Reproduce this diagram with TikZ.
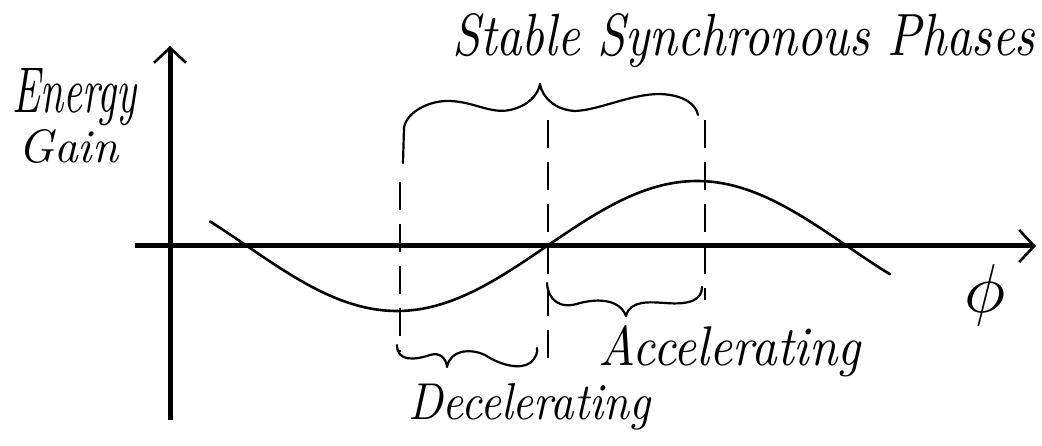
\documentclass[tikz,border=0pt]{standalone}
\usetikzlibrary{arrows.meta}
\begin{document}
\begin{tikzpicture}[x=1pt,y=-1pt,
  axis/.style={line width=5pt,-{Straight Barb[length=15pt,width=32pt,line width=2.6pt]}},
  wave/.style={line width=2.6pt,line cap=round},
  bracestroke/.style={line width=2.2pt,line cap=round,line join=round},
  guide/.style={line width=1.4pt,dash pattern=on 28pt off 14pt},
  hand/.style={inner sep=0pt,font=\itshape}]
\useasboundingbox (0,0) rectangle (1042,446);
% axes
\coordinate (yb) at (170,420);
\coordinate (yt) at (170,46);
\coordinate (xl) at (135,246);
\coordinate (xr) at (1036,246);
\draw[axis] (yb) -- (yt);
\draw[axis] (xl) -- (xr);
% sine curve
\draw[wave] plot[domain=210:890,samples=120,smooth] (\x,{246-65*sin(0.6*(\x-547))});
% dashed guides
\coordinate (g1t) at (400,182); \coordinate (g1b) at (400,352);
\coordinate (g2t) at (548,120); \coordinate (g2b) at (548,362);
\coordinate (g3t) at (705,120); \coordinate (g3b) at (705,300);
\draw[guide] (g1t) -- (g1b);
\draw[guide] (g2t) -- (g2b);
\draw[guide] (g3t) -- (g3b);
% top brace
\draw[bracestroke] (403,163) -- (404,128) .. controls (406,112) and (430,100) .. (450,101)
  .. controls (475,102) and (490,114) .. (510,110) .. controls (528,106) and (538,95) .. (540,84)
  .. controls (542,97) and (555,110) .. (575,111) .. controls (600,110) and (630,94) .. (660,94)
  .. controls (685,95) and (696,105) .. (698,115);
% accelerating brace
\draw[bracestroke] (547,283) .. controls (548,300) and (560,310) .. (580,303)
  .. controls (600,298) and (620,300) .. (626,316) .. controls (630,300) and (650,302) .. (665,303)
  .. controls (690,305) and (702,300) .. (702,287);
% decelerating brace
\draw[bracestroke] (397,345) .. controls (397,362) and (415,360) .. (430,355)
  .. controls (440,352) and (446,358) .. (447,367) .. controls (450,350) and (470,348) .. (485,355)
  .. controls (500,365) and (520,370) .. (530,363) .. controls (536,358) and (538,352) .. (537,348);
% labels
\node[hand,anchor=base west] (title) at (452,56) {\resizebox{583pt}{42pt}{Stable Synchronous Phases}};
\node[hand,anchor=base west] (energy) at (12,113) {\resizebox{124pt}{44pt}{Energy}};
\node[hand,anchor=base west] (gain) at (18,163) {\resizebox{100pt}{33pt}{Gain}};
\node[hand,anchor=base west] (acc) at (598,366) {\resizebox{262pt}{40pt}{Accelerating}};
\node[hand,anchor=base west] (dec) at (408,419) {\resizebox{242pt}{36pt}{Decelerating}};
\node[inner sep=0pt] (phi) at (985,295) {\resizebox{!}{48pt}{$\phi$}};
\end{tikzpicture}
\end{document}
